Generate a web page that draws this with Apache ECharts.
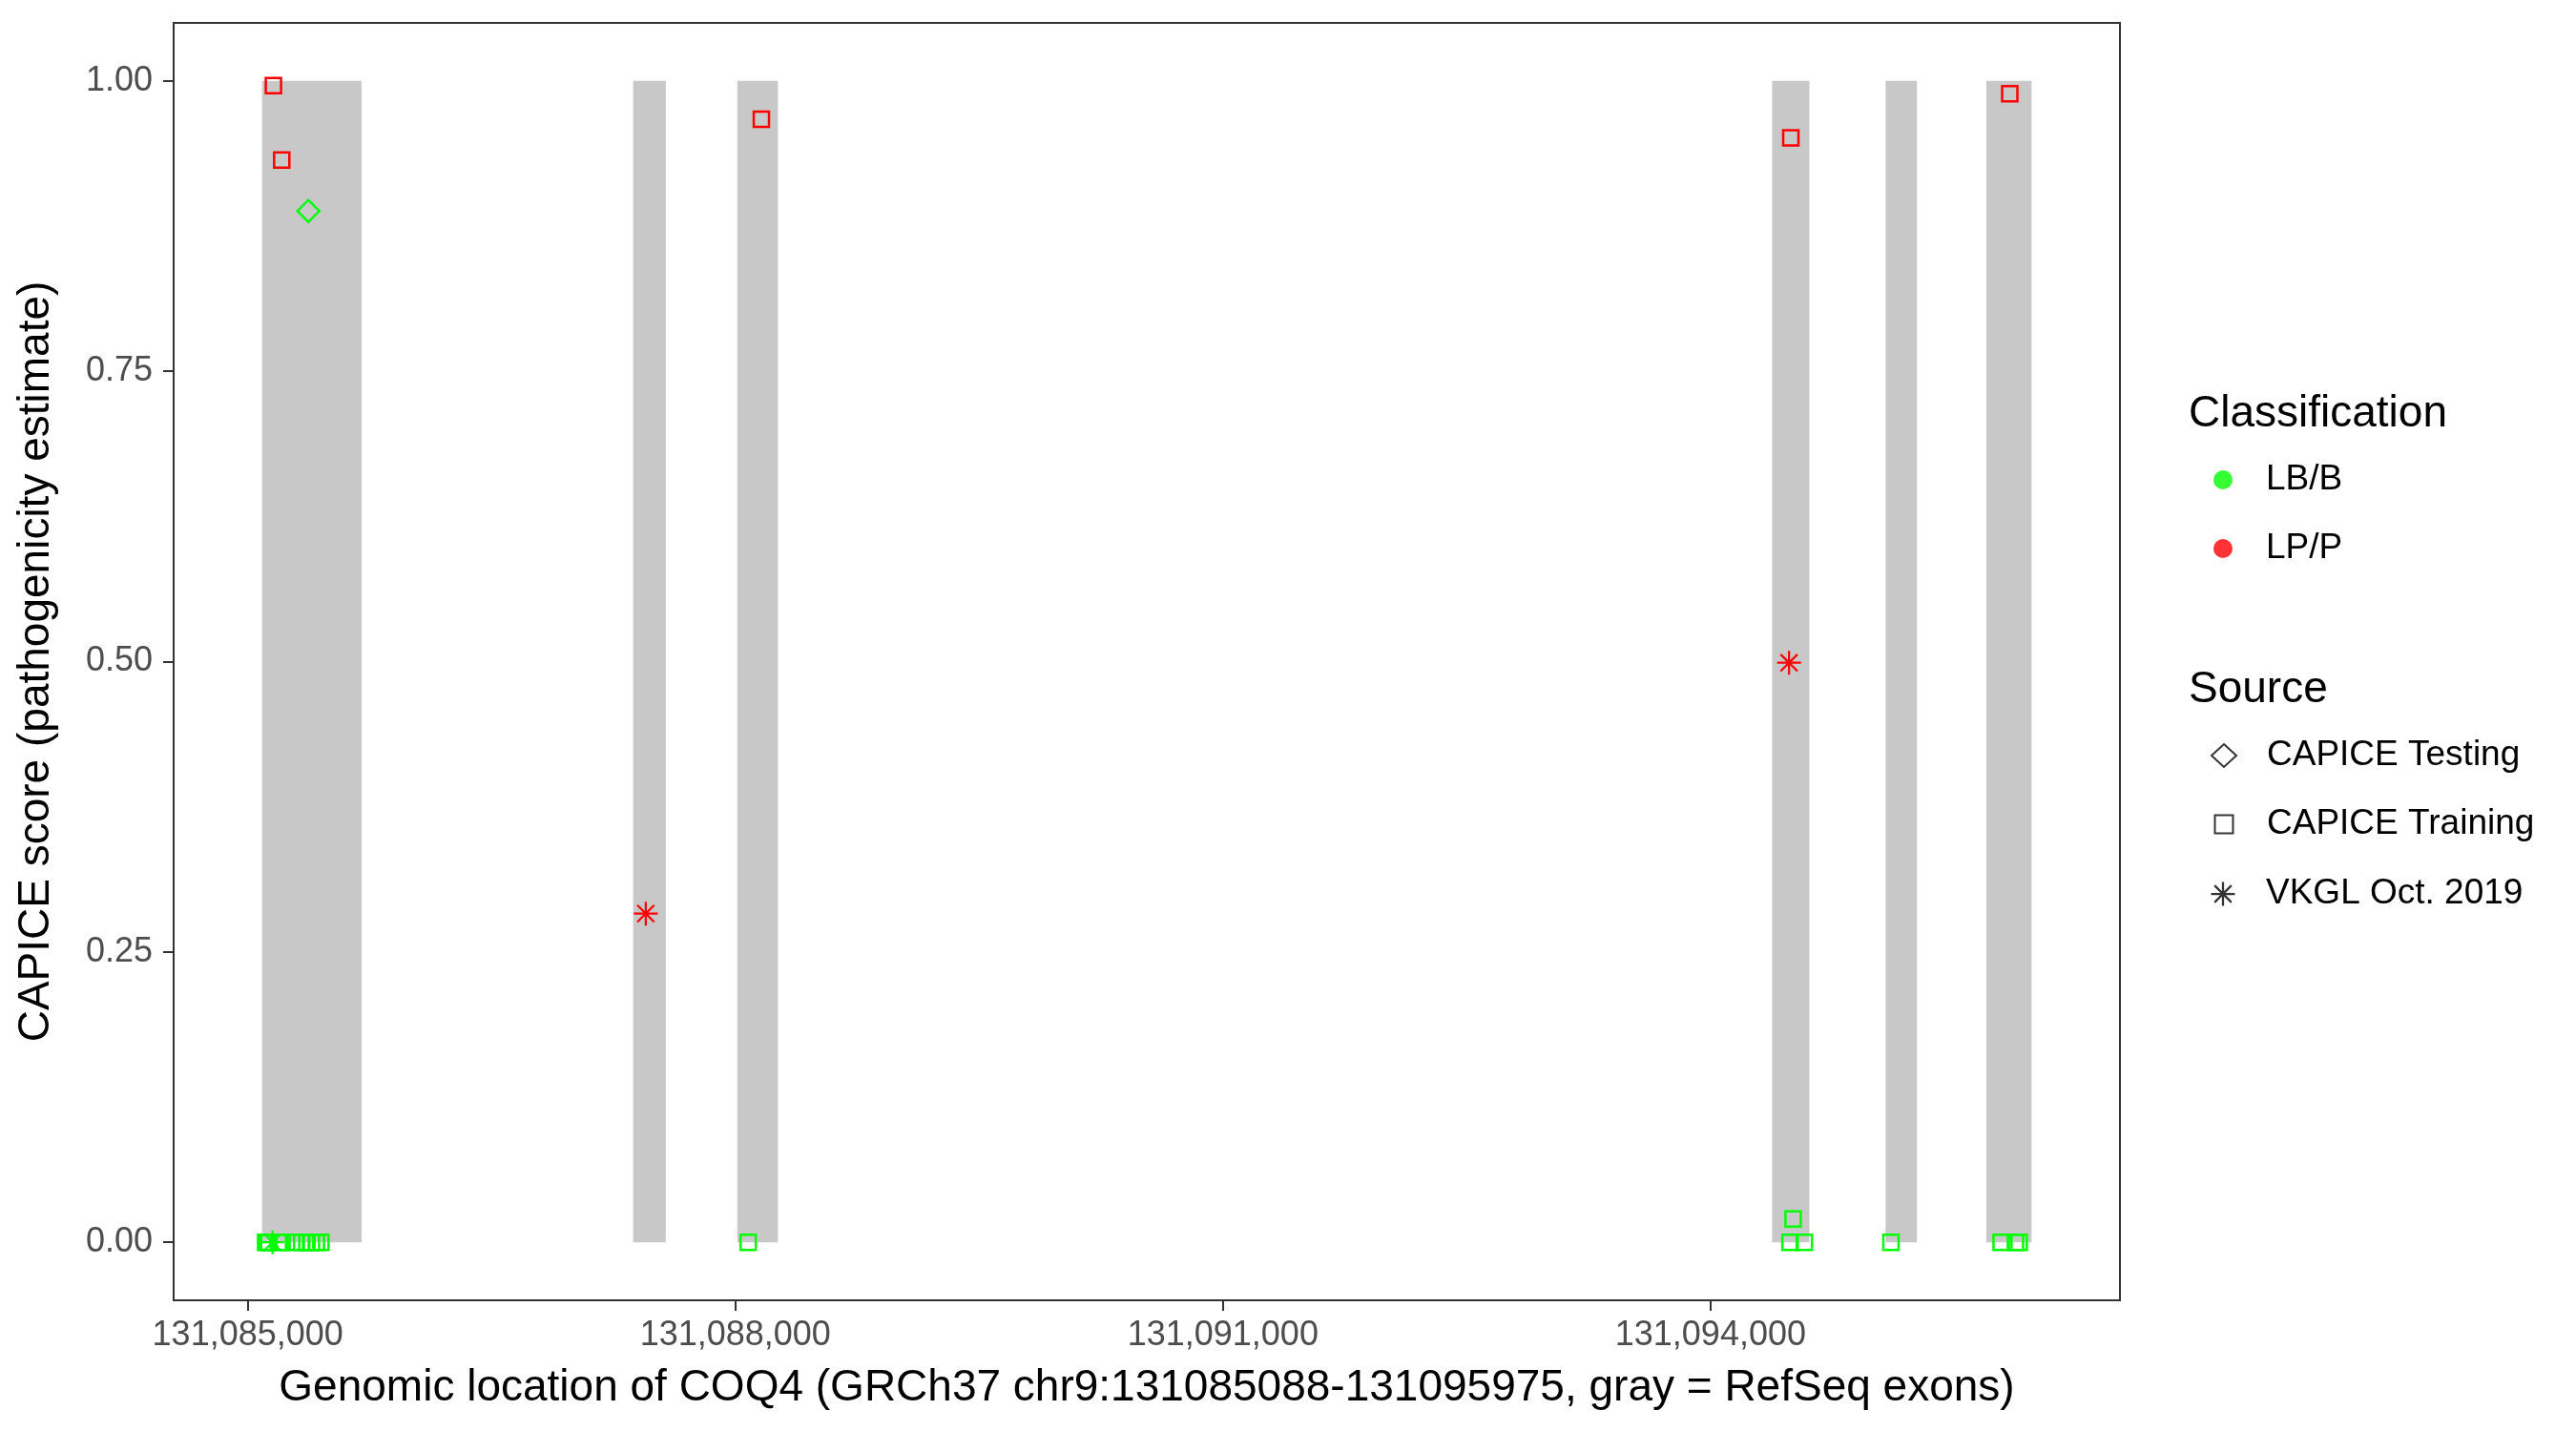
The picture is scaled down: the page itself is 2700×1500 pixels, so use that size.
<!DOCTYPE html>
<html>
<head>
<meta charset="utf-8">
<script src="https://cdn.jsdelivr.net/npm/echarts@6/dist/echarts.min.js"></script>
<style>
  html, body { margin: 0; padding: 0; background: #fff; }
  #chart { width: 2700px; height: 1500px; }
</style>
</head>
<body>
<div id="chart"></div>
<script>
// RefSeq exons (gray bands)
const exonStart = [131085088, 131087371, 131088012, 131094379, 131095077, 131095697]
const exonEnd = [131085700, 131087572, 131088262, 131094608, 131095270, 131095975]

// LB/B variants
const lbTrainPos = [131085110, 131085121, 131085130, 131085188, 131085211, 131085293, 131085332, 131085364, 131085392, 131085422, 131085450,
  131088079, 131094489, 131094508, 131094577, 131095110, 131095788, 131095876, 131095899]
const lbTrainScore = [0, 0, 0, 0, 0, 0, 0, 0, 0, 0, 0,
  0, 0, 0.02, 0, 0, 0, 0, 0]
const lbTestPos = [131085373]
const lbTestScore = [0.888]
const lbVkglPos = [131085152]
const lbVkglScore = [0]

// LP/P variants
const lpTrainPos = [131085158, 131085209, 131088160, 131094494, 131095841]
const lpTrainScore = [0.996, 0.932, 0.967, 0.951, 0.989]
const lpVkglPos = [131087449, 131094483]
const lpVkglScore = [0.283, 0.499]

const xTicks = [131085000, 131088000, 131091000, 131094000]
const yTicks = [0, 0.25, 0.5, 0.75, 1]

const GREEN = '#00FF00'
const RED = '#FF0000'
const FONT = 'Liberation Sans'
const ASTERISK = 'path://M0 9.1L20 9.1L20 10.9L0 10.9Z M9.1 0L10.9 0L10.9 20L9.1 20Z ' +
  'M3.57 2.29L17.71 16.43L16.43 17.71L2.29 3.57Z M16.43 2.29L17.71 3.57L3.57 17.71L2.29 16.43Z'

function zip (a, b) {
  return a.map((v, i) => [v, b[i]])
}

function pointSeries (name, pos, score, symbol, color) {
  let hollow = symbol !== ASTERISK
  return {
    name: name,
    type: 'scatter',
    data: zip(pos, score),
    symbol: symbol,
    symbolSize: symbol === 'rect' ? 16 : (symbol === 'diamond' ? 23 : 25),
    itemStyle: hollow
      ? { color: 'rgba(0,0,0,0)', borderColor: color, borderWidth: 2.5, opacity: 1 }
      : { color: color, borderWidth: 0, opacity: 1 },
    emphasis: { disabled: true },
    z: 3
  }
}

function legendSeries (name, symbol, style) {
  return { name: name, type: 'scatter', data: [], symbol: symbol, itemStyle: style }
}

// one legend block; icon centre sits at x = 2330, text starts at x = 2375
function makeLegend (names, centerY, w, h, styles, icons) {
  return {
    orient: 'vertical',
    left: 2330 - w / 2,
    top: centerY - 20,
    padding: 0,
    itemWidth: w,
    itemHeight: h,
    itemGap: 32,
    selectedMode: false,
    textStyle: {
      fontFamily: FONT,
      fontSize: 37,
      color: '#000',
      lineHeight: 40,
      padding: [0, 0, 0, 2375 - (2330 - w / 2) - w - 5]
    },
    data: names.map((n, i) => ({ name: n, icon: icons[i], itemStyle: styles[i] }))
  }
}

const hollowBlack = { color: 'rgba(0,0,0,0)', borderColor: '#000', borderWidth: 2 }

const chart = echarts.init(document.getElementById('chart'), null, { renderer: 'canvas' })

const option = {
  backgroundColor: '#fff',
  animation: false,
  grid: {
    left: 182,
    right: 478,
    top: 24,
    bottom: 137,
    show: true,
    borderColor: '#333333',
    borderWidth: 2,
    backgroundColor: '#fff',
    outerBoundsMode: 'none'
  },
  xAxis: {
    type: 'value',
    min: 131084544,
    max: 131096519,
    axisLine: { show: true, onZero: false, lineStyle: { color: '#333333', width: 2 } },
    splitLine: { show: false },
    axisTick: { show: true, length: 11, lineStyle: { color: '#333333', width: 2 }, customValues: xTicks },
    axisLabel: {
      customValues: xTicks,
      margin: 19,
      color: '#4D4D4D',
      fontSize: 36,
      fontFamily: FONT,
      formatter: v => Number(v).toLocaleString('en-US')
    },
    name: 'Genomic location of COQ4 (GRCh37 chr9:131085088-131095975, gray = RefSeq exons)',
    nameLocation: 'middle',
    nameGap: 69,
    nameTextStyle: { fontFamily: FONT, fontSize: 46, color: '#000' }
  },
  yAxis: {
    type: 'value',
    min: -0.05,
    max: 1.05,
    axisLine: { show: true, onZero: false, lineStyle: { color: '#333333', width: 2 } },
    splitLine: { show: false },
    axisTick: { show: true, length: 11, lineStyle: { color: '#333333', width: 2 }, customValues: yTicks },
    axisLabel: {
      customValues: yTicks,
      margin: 22,
      color: '#4D4D4D',
      fontSize: 36,
      fontFamily: FONT,
      formatter: v => Number(v).toFixed(2)
    },
    name: 'CAPICE score (pathogenicity estimate)',
    nameLocation: 'middle',
    nameGap: 121,
    nameTextStyle: { fontFamily: FONT, fontSize: 46, color: '#000' }
  },
  legend: [
    makeLegend(['LB/B', 'LP/P'], 503, 20, 20,
      [{ color: GREEN, borderWidth: 0 }, { color: RED, borderWidth: 0 }],
      ['circle', 'circle']),
    makeLegend(['CAPICE Testing'], 792, 26, 24, [hollowBlack], ['diamond']),
    makeLegend(['CAPICE Training'], 864, 19, 19, [hollowBlack], ['rect']),
    makeLegend(['VKGL Oct. 2019'], 937, 25, 25, [{ color: '#000', borderWidth: 0 }], [ASTERISK])
  ],
  graphic: [
    { type: 'text', x: 2294, y: 434, style: { text: 'Classification', fontFamily: FONT, fontSize: 46, fill: '#000', verticalAlign: 'middle' } },
    { type: 'text', x: 2294, y: 723, style: { text: 'Source', fontFamily: FONT, fontSize: 46, fill: '#000', verticalAlign: 'middle' } }
  ],
  series: [
    {
      type: 'custom',
      name: 'exons',
      data: zip(exonStart, exonEnd),
      encode: { x: [0, 1] },
      silent: true,
      z: 1,
      renderItem: function (params, api) {
        let p1 = api.coord([api.value(0), 1])
        let p2 = api.coord([api.value(1), 0])
        return {
          type: 'rect',
          shape: { x: p1[0], y: p1[1], width: p2[0] - p1[0], height: p2[1] - p1[1] },
          style: { fill: '#C8C8C8' }
        }
      }
    },
    pointSeries('LB/B CAPICE Training', lbTrainPos, lbTrainScore, 'rect', GREEN),
    pointSeries('LB/B CAPICE Testing', lbTestPos, lbTestScore, 'diamond', GREEN),
    pointSeries('LB/B VKGL', lbVkglPos, lbVkglScore, ASTERISK, GREEN),
    pointSeries('LP/P CAPICE Training', lpTrainPos, lpTrainScore, 'rect', RED),
    pointSeries('LP/P VKGL', lpVkglPos, lpVkglScore, ASTERISK, RED),
    legendSeries('LB/B', 'circle', { color: GREEN }),
    legendSeries('LP/P', 'circle', { color: RED }),
    legendSeries('CAPICE Testing', 'diamond', hollowBlack),
    legendSeries('CAPICE Training', 'rect', hollowBlack),
    legendSeries('VKGL Oct. 2019', ASTERISK, { color: '#000' })
  ]
}

chart.setOption(option)
</script>
</body>
</html>
